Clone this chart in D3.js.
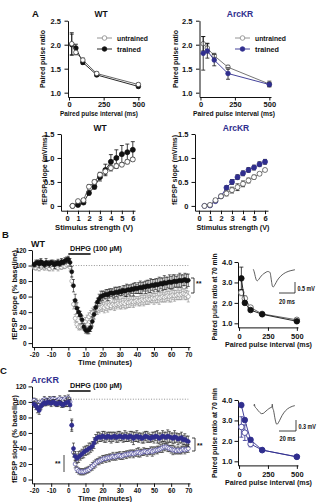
<!DOCTYPE html>
<html>
<head>
<meta charset="utf-8">
<script src="https://cdn.jsdelivr.net/npm/d3@7"></script>
<style>
  body { margin: 0; background: #fff; }
  svg { display: block; }
  text { font-family: "Liberation Sans", Arial, sans-serif; font-weight: bold; }
</style>
</head>
<body>
<script>
// ---- data ----
const ppInterval = [20, 50, 100, 200, 500];
const wtPprUntrained    = [2.02, 1.84, 1.68, 1.40, 1.17];
const wtPprUntrainedErr = [0.23, 0.05, 0.04, 0.03, 0.03];
const wtPprTrained      = [2.00, 1.93, 1.63, 1.37, 1.13];
const wtPprTrainedErr   = [0.22, 0.08, 0.04, 0.03, 0.03];
const arcPprUntrained    = [2.02, 1.93, 1.77, 1.53, 1.18];
const arcPprUntrainedErr = [0.15, 0.10, 0.05, 0.04, 0.06];
const arcPprTrained      = [1.82, 1.87, 1.68, 1.40, 1.17];
const arcPprTrainedErr   = [0.35, 0.15, 0.12, 0.12, 0.04];

const stimV = [0.5, 1, 1.5, 2, 2.5, 3, 3.5, 4, 4.5, 5, 5.5, 6];
const wtIoUntrained    = [0, 0.10, 0.12, 0.40, 0.50, 0.65, 0.72, 0.79, 0.83, 0.86, 0.92, 0.97];
const wtIoUntrainedErr = [0.01, 0.02, 0.03, 0.04, 0.04, 0.05, 0.06, 0.06, 0.05, 0.04, 0.04, 0.04];
const wtIoTrained      = [0, 0.02, 0.07, 0.27, 0.40, 0.60, 0.75, 0.92, 1.00, 1.08, 1.12, 1.17];
const wtIoTrainedErr   = [0.01, 0.02, 0.03, 0.04, 0.05, 0.08, 0.12, 0.15, 0.17, 0.18, 0.17, 0.17];
const arcIoUntrained    = [0, 0.02, 0.12, 0.20, 0.26, 0.33, 0.39, 0.46, 0.53, 0.60, 0.67, 0.75];
const arcIoUntrainedErr = [0.01, 0.01, 0.03, 0.04, 0.05, 0.06, 0.07, 0.06, 0.05, 0.04, 0.03, 0.03];
const arcIoTrained      = [0, 0.01, 0.10, 0.20, 0.38, 0.50, 0.60, 0.68, 0.75, 0.80, 0.87, 0.92];
const arcIoTrainedErr   = [0.01, 0.01, 0.02, 0.03, 0.04, 0.05, 0.05, 0.05, 0.05, 0.05, 0.05, 0.05];

// minutes -20 .. 70
const timeMin = d3.range(-20, 71);
const wtLtdTrained = [101,103,104,102,105,103,101,104,103,102,104,103,101,103,104,102,105,104,106,107,
  108,104,92,74,55,45,40,36,30,21,17,16,17,20,28,37,
  46,53,57,60,61,62,63,62,64,65,64,65,66,65,67,66,68,67,68,69,68,70,69,71,70,71,72,71,73,72,74,73,74,75,74,
  76,75,76,77,76,78,77,78,79,78,79,80,79,80,81,80,81,82,80,81];
const wtLtdTrainedErr = [3,4,3,5,4,3,4,5,3,4,3,4,5,3,4,3,4,3,4,4,
  4,5,7,8,8,7,6,5,5,4,4,4,5,5,6,6,
  6,5,6,7,6,5,6,7,6,5,6,7,6,7,6,5,6,7,8,6,7,6,8,7,6,7,8,7,6,8,7,8,9,7,8,7,8,9,7,8,9,8,7,9,8,9,8,7,8,9,8,7,8,9,8];
const wtLtdUntrained = [98,97,99,96,98,100,97,99,98,96,99,97,100,98,97,99,98,100,99,101,
  102,98,80,50,32,24,21,21,22,25,28,31,34,37,39,41,
  43,44,45,46,47,46,48,47,49,48,50,49,50,51,50,51,52,51,53,52,53,54,53,54,55,54,55,56,55,56,
  57,56,57,58,57,58,59,58,59,60,59,60,61,60,61,62,61,62,63,62,63,64,63,62,60];
const wtLtdUntrainedErr = [3,3,4,3,3,4,3,3,4,3,3,4,3,3,4,3,3,4,3,3,
  4,5,6,6,5,4,4,4,4,4,5,5,5,5,6,6,
  6,7,6,5,6,7,6,7,6,5,6,7,6,5,6,7,6,7,8,6,7,6,7,6,5,6,7,6,7,6,7,6,5,6,7,6,7,8,6,7,6,7,6,7,8,6,7,6,7,6,7,6,7,6,7];
const arcLtdTrained = [97,95,92,89,94,97,99,98,100,99,98,100,99,97,98,99,97,96,98,99,
  100,96,70,40,30,27,29,31,33,35,37,38,40,41,43,47,
  52,54,55,54,56,55,54,56,55,54,55,56,54,55,56,55,54,56,55,54,56,55,53,55,56,54,55,53,54,56,
  55,54,53,55,54,56,55,53,54,56,55,54,56,55,54,53,55,54,52,53,54,51,52,50,49];
const arcLtdTrainedErr = [4,5,6,5,4,3,4,3,4,3,4,3,4,3,4,3,4,3,4,5,
  6,7,8,7,6,6,7,6,6,7,6,6,7,6,6,7,
  6,7,6,5,6,7,6,5,6,7,6,5,6,7,6,5,6,7,6,5,6,7,8,6,7,6,5,6,7,6,7,6,5,6,7,6,8,7,6,7,6,7,8,7,6,7,8,6,7,6,7,6,7,6,7];
const arcLtdUntrained = [102,100,97,93,99,101,103,102,101,103,102,104,103,101,102,104,103,102,104,103,
  105,100,70,35,20,13,11,10,10,10,11,12,13,15,17,19,
  21,23,24,25,26,27,27,28,28,29,30,29,30,31,31,30,31,32,32,33,33,34,33,34,35,35,34,35,36,36,
  35,36,37,36,37,38,38,39,40,41,42,42,41,40,39,38,38,37,38,37,38,39,38,39,40];
const arcLtdUntrainedErr = [3,4,5,4,3,3,4,3,3,4,3,3,4,3,3,4,3,3,4,3,
  4,5,6,6,5,4,4,4,4,4,4,4,4,4,5,5,
  5,4,5,4,5,4,5,4,5,4,5,4,5,4,5,4,5,4,5,4,5,4,5,4,5,6,5,4,5,4,5,4,5,6,5,4,5,4,5,6,5,4,5,4,5,6,5,4,5,4,5,4,5,4,5];

// paired pulse ratio at 70 min
const wt70Trained      = [3.20, 2.00, 1.65, 1.44, 1.10];
const wt70TrainedErr   = [0.55, 0.10, 0.05, 0.04, 0.04];
const wt70Untrained    = [2.50, 2.22, 1.77, 1.46, 1.17];
const wt70UntrainedErr = [0.15, 0.12, 0.06, 0.04, 0.04];
const arc70Trained      = [3.75, 3.02, 2.05, 1.55, 1.22];
const arc70TrainedErr   = [0.10, 0.10, 0.10, 0.07, 0.04];
const arc70Untrained    = [2.68, 2.40, 1.85, 1.55, 1.22];
const arc70UntrainedErr = [0.50, 0.38, 0.14, 0.06, 0.04];

// example traces (ms, mV)
const wtTraceMs = [0,1,2,3,4,5,7,10,13,16,18,20,21,22,23,24,25,27,30,34,38,42,47,52];
const wtTraceMv = [0,-0.1,-0.25,-0.4,-0.5,-0.52,-0.45,-0.3,-0.2,-0.13,-0.1,-0.12,-0.15,-0.35,-0.6,-0.78,-0.8,-0.7,-0.5,-0.32,-0.2,-0.12,-0.06,-0.02];
const arcTraceMs = [0,0.5,1,3,5,7,9,11,13,16,19,21,21.5,22,23,24,25,26,27,28,30,33,37,42,48];
const arcTraceMv = [0,0.05,-0.01,-0.07,-0.13,-0.18,-0.21,-0.2,-0.16,-0.1,-0.05,-0.03,0.05,-0.05,-0.12,-0.25,-0.38,-0.47,-0.5,-0.48,-0.4,-0.26,-0.13,-0.04,0.01];

// ---- drawing ----
const purple = '#302e8e';
const ink = '#111';
const svg = d3.select('body').append('svg').attr('width', 319).attr('height', 502);

function label(x, y, txt, o = {}) {
  const t = svg.append('text').attr('x', x).attr('y', y).text(txt)
    .attr('font-size', o.size || 7)
    .attr('fill', o.fill || ink)
    .attr('text-anchor', o.anchor || 'start');
  if (o.rotate) t.attr('transform', `rotate(-90,${x},${y})`);
  if (o.len) t.attr('textLength', o.len).attr('lengthAdjust', 'spacingAndGlyphs');
  return t;
}

function axes(x, y, xTicks, yTicks, xFmt, yFmt, o) {
  const gx = svg.append('g').attr('transform', `translate(0,${y.range()[0]})`)
    .call(d3.axisBottom(x).tickValues(xTicks).tickFormat(xFmt)
      .tickSize(3.5).tickSizeOuter(0).tickPadding(o.xPad));
  const gy = svg.append('g').attr('transform', `translate(${x.range()[0]},0)`)
    .call(d3.axisLeft(y).tickValues(yTicks).tickFormat(yFmt)
      .tickSize(3.5).tickSizeOuter(0).tickPadding(o.yPad));
  [gx, gy].forEach(g => {
    g.attr('font-size', o.fs);
    g.selectAll('path, line').attr('stroke', ink).attr('stroke-width', 1);
    g.selectAll('text').attr('fill', ink);
  });
}

function series(x, y, xs, ys, es, o) {
  const g = svg.append('g');
  if (o.line) {
    g.append('path')
      .datum(xs.map((d, i) => [d, ys[i]]))
      .attr('d', d3.line().x(d => x(d[0])).y(d => y(d[1])))
      .attr('fill', 'none').attr('stroke', o.line).attr('stroke-width', o.lw || 0.9);
  }
  const cap = o.cap || 2;
  const errCol = o.err || ink;
  const ew = o.ew || 0.8;
  xs.forEach((d, i) => {
    const cx = x(d), lo = y(ys[i] - es[i]), hi = y(ys[i] + es[i]);
    g.append('line').attr('x1', cx).attr('x2', cx).attr('y1', lo).attr('y2', hi)
      .attr('stroke', errCol).attr('stroke-width', ew);
    [lo, hi].forEach(yy => g.append('line')
      .attr('x1', cx - cap).attr('x2', cx + cap).attr('y1', yy).attr('y2', yy)
      .attr('stroke', errCol).attr('stroke-width', ew));
  });
  g.selectAll('circle').data(xs).join('circle')
    .attr('cx', d => x(d)).attr('cy', (d, i) => y(ys[i])).attr('r', o.r)
    .attr('fill', o.fill).attr('stroke', o.stroke).attr('stroke-width', o.sw || 0.8);
}

function legend(x0, yy, txt, col, filled) {
  svg.append('line').attr('x1', x0).attr('x2', x0 + 15).attr('y1', yy).attr('y2', yy)
    .attr('stroke', col).attr('stroke-width', 0.9);
  svg.append('circle').attr('cx', x0 + 7.5).attr('cy', yy).attr('r', 2.3)
    .attr('fill', filled ? col : '#fff').attr('stroke', col).attr('stroke-width', 0.8);
  label(x0 + 20, yy + 2.5, txt, { size: 7, len: txt === 'untrained' ? 31 : 24 });
}

const f1 = d3.format('.1f');
const ioFmt = d => d === 0 ? '0' : f1(d);
const plain = d => String(d);

// ---- A: paired pulse ratio ----
label(32, 17, 'A', { size: 9.5 });
{
  const x = d3.scaleLinear([-7, 512], [68, 140]);
  const y = d3.scaleLinear([0.91, 2.5], [97, 20.7]);
  axes(x, y, [0, 250, 500], [1.0, 1.5, 2.0, 2.5], plain, f1, { fs: 7.5, xPad: 1.5, yPad: 3.5 });
  series(x, y, ppInterval, wtPprTrained, wtPprTrainedErr, { r: 2.3, fill: ink, stroke: ink, line: ink });
  series(x, y, ppInterval, wtPprUntrained, wtPprUntrainedErr, { r: 2.3, fill: '#fff', stroke: '#444', line: '#555' });
  label(101, 17, 'WT', { size: 8.5, anchor: 'middle' });
  label(45, 59, 'Paired pulse ratio', { size: 7.5, anchor: 'middle', rotate: true, len: 58 });
  label(99, 116, 'Paired pulse interval (ms)', { size: 7.5, anchor: 'middle', len: 78 });
  legend(97, 38, 'untrained', '#888', false);
  legend(97, 49, 'trained', ink, true);
}
{
  const x = d3.scaleLinear([-7, 512], [199.5, 271]);
  const y = d3.scaleLinear([0.91, 2.5], [97, 20.7]);
  axes(x, y, [0, 250, 500], [1.0, 1.5, 2.0, 2.5], plain, f1, { fs: 7.5, xPad: 1.5, yPad: 3.5 });
  series(x, y, ppInterval, arcPprUntrained, arcPprUntrainedErr, { r: 2.3, fill: '#fff', stroke: '#555', line: '#666' });
  series(x, y, ppInterval, arcPprTrained, arcPprTrainedErr, { r: 2.3, fill: purple, stroke: purple, line: purple });
  label(240, 17, 'ArcKR', { size: 8.5, anchor: 'middle', fill: purple });
  label(178, 59, 'Paired pulse ratio', { size: 7.5, anchor: 'middle', rotate: true, len: 58 });
  label(234, 116, 'Paired pulse interval (ms)', { size: 7.5, anchor: 'middle', len: 82 });
  legend(235, 38, 'untrained', '#888', false);
  legend(235, 49, 'trained', purple, true);
}

// ---- A: input/output ----
{
  const x = d3.scaleLinear([-0.55, 6.2], [61, 135]);
  const y = d3.scaleLinear([-0.1, 1.5], [210.7, 134]);
  axes(x, y, d3.range(0, 7), [0, 0.5, 1.0, 1.5], plain, ioFmt, { fs: 7.5, xPad: 1.5, yPad: 3 });
  series(x, y, stimV, wtIoTrained, wtIoTrainedErr, { r: 2.5, fill: ink, stroke: ink, line: ink });
  series(x, y, stimV, wtIoUntrained, wtIoUntrainedErr, { r: 2.5, fill: '#fff', stroke: '#444', line: '#555' });
  label(100, 131, 'WT', { size: 8.5, anchor: 'middle' });
  label(46.5, 170, 'fEPSP slope (mV/ms)', { size: 7.5, anchor: 'middle', rotate: true, len: 70 });
  label(94, 230, 'Stimulus strength (V)', { size: 7.5, anchor: 'middle', len: 78 });
}
{
  const x = d3.scaleLinear([-0.36, 6.27], [195, 268]);
  const y = d3.scaleLinear([-0.1, 1.5], [210.7, 134]);
  axes(x, y, d3.range(0, 7), [0, 0.5, 1.0, 1.5], plain, ioFmt, { fs: 7.5, xPad: 1.5, yPad: 3 });
  series(x, y, stimV, arcIoTrained, arcIoTrainedErr, { r: 2.5, fill: purple, stroke: purple, line: purple });
  series(x, y, stimV, arcIoUntrained, arcIoUntrainedErr, { r: 2.5, fill: '#fff', stroke: '#555', line: '#666' });
  label(236, 131, 'ArcKR', { size: 8.5, anchor: 'middle', fill: purple });
  label(176.5, 170, 'fEPSP slope (mV/ms)', { size: 7.5, anchor: 'middle', rotate: true, len: 70 });
  label(233, 230, 'Stimulus strength (V)', { size: 7.5, anchor: 'middle', len: 73 });
}

// ---- B / C: time course ----
function timeCourse(top, opts) {
  const x = d3.scaleLinear([-21.2, 71], [32, 190]);
  const y = d3.scaleLinear([-5, 120], [top + 97, top]);
  axes(x, y, d3.range(-20, 71, 10), d3.range(0, 121, 20), plain, plain, { fs: 6.5, xPad: 1.5, yPad: 2 });
  svg.append('line').attr('x1', x(-20)).attr('x2', x(70)).attr('y1', y(opts.dotted)).attr('y2', y(opts.dotted))
    .attr('stroke', '#777').attr('stroke-width', 0.8).attr('stroke-dasharray', '1,1.6');
  series(x, y, timeMin, opts.open, opts.openErr,
    { r: 2, fill: '#fff', stroke: opts.openStroke, sw: 0.6, cap: 1.5, err: opts.openErrCol, ew: 0.6 });
  series(x, y, timeMin, opts.filled, opts.filledErr,
    { r: 2, fill: opts.filledCol, stroke: opts.filledCol, sw: 0.6, cap: 1.5, err: ink, ew: 0.6 });
  // DHPG bar
  svg.append('line').attr('x1', x(0)).attr('x2', x(13)).attr('y1', opts.barY).attr('y2', opts.barY)
    .attr('stroke', ink).attr('stroke-width', 1.6);
  label(70, opts.barY - 3.5, 'DHPG (100 \u00b5M)', { size: 7, len: 52 });
  label(16.5, opts.yLabY, 'fEPSP slope (% baseline)', { size: 7.5, anchor: 'middle', rotate: true, len: opts.yLabLen });
  label(105, top + 115, 'Time (minutes)', { size: 7.5, anchor: 'middle', len: 54 });
  return { x, y };
}

function bracket(x0, y0, y1, starsY) {
  svg.append('path').attr('d', `M${x0},${y0}H${x0 + 3}V${y1}H${x0}`)
    .attr('fill', 'none').attr('stroke', ink).attr('stroke-width', 0.8);
  label(x0 + 5, starsY, '**', { size: 7 });
}

function pprPanel(top, data) {
  const x = d3.scaleLinear([-9, 510], [238, 298]);
  const y = d3.scaleLinear([0.8, 4.0], [top + 65.4, top]);
  axes(x, y, [0, 250, 500], [1.0, 2.0, 3.0, 4.0], plain, f1, { fs: 7.5, xPad: 2.5, yPad: 2 });
  series(x, y, ppInterval, data.open, data.openErr,
    { r: 2.8, fill: '#fff', stroke: data.openStroke, line: data.openStroke, err: data.openStroke });
  series(x, y, ppInterval, data.filled, data.filledErr,
    { r: 2.8, fill: data.filledCol, stroke: data.filledCol, line: data.filledCol, err: data.filledCol });
  label(268.5, top + 85, 'Paired pulse interval (ms)', { size: 7.5, anchor: 'middle', len: 87 });
  label(216.5, data.yLabY, 'Paired pulse ratio at 70 min', { size: 7.5, anchor: 'middle', rotate: true, len: data.yLabLen });
}

function trace(ms, mv, tx, ty) {
  svg.append('path').datum(ms.map((d, i) => [d, mv[i]]))
    .attr('d', d3.line().x(d => tx(d[0])).y(d => ty(d[1])).curve(d3.curveMonotoneX))
    .attr('fill', 'none').attr('stroke', '#333').attr('stroke-width', 0.8);
}

function scaleBar(xl, xr, yt, yb, vTxt, vY, hY) {
  svg.append('path').attr('d', `M${xl},${yb}H${xr}V${yt}`)
    .attr('fill', 'none').attr('stroke', ink).attr('stroke-width', 0.8);
  label(xr + 2.5, vY, vTxt, { size: 6.5, len: 17.5 });
  label((xl + xr) / 2, hY, '20 ms', { size: 6.5, anchor: 'middle', len: 16 });
}

// B
label(2, 238, 'B', { size: 9.5 });
label(31, 246.5, 'WT', { size: 9 });
timeCourse(250, {
  dotted: 100, barY: 254,
  open: wtLtdUntrained, openErr: wtLtdUntrainedErr, openStroke: '#8a8a8a', openErrCol: '#8a8a8a',
  filled: wtLtdTrained, filledErr: wtLtdTrainedErr, filledCol: ink,
  yLabY: 295, yLabLen: 90
});
bracket(191, 278, 293, 286);
pprPanel(262, {
  open: wt70Untrained, openErr: wt70UntrainedErr, openStroke: '#555',
  filled: wt70Trained, filledErr: wt70TrainedErr, filledCol: ink,
  yLabY: 297, yLabLen: 87
});
trace(wtTraceMs, wtTraceMv, d3.scaleLinear([0, 20], [253.3, 269.3]), d3.scaleLinear([0, -0.5], [269.3, 280.3]));
scaleBar(279, 295, 282, 293, '0.5 mV', 290.5, 304);

// C
label(0, 374, 'C', { size: 9.5 });
label(31, 383, 'ArcKR', { size: 9, fill: purple });
timeCourse(386.4, {
  dotted: 103.5, barY: 391,
  open: arcLtdUntrained, openErr: arcLtdUntrainedErr, openStroke: purple, openErrCol: '#222',
  filled: arcLtdTrained, filledErr: arcLtdTrainedErr, filledCol: purple,
  yLabY: 439, yLabLen: 88
});
bracket(192, 438, 451, 448);
svg.append('line').attr('x1', 64).attr('x2', 64).attr('y1', 455).attr('y2', 472)
  .attr('stroke', ink).attr('stroke-width', 0.8);
label(55, 466, '**', { size: 7 });
pprPanel(400, {
  open: arc70Untrained, openErr: arc70UntrainedErr, openStroke: purple,
  filled: arc70Trained, filledErr: arc70TrainedErr, filledCol: purple,
  yLabY: 433, yLabLen: 90
});
trace(arcTraceMs, arcTraceMv, d3.scaleLinear([0, 20], [254, 271]), d3.scaleLinear([0, -0.3], [406, 417]));
scaleBar(279, 296, 420, 431, '0.3 mV', 428.5, 441);
</script>
</body>
</html>
